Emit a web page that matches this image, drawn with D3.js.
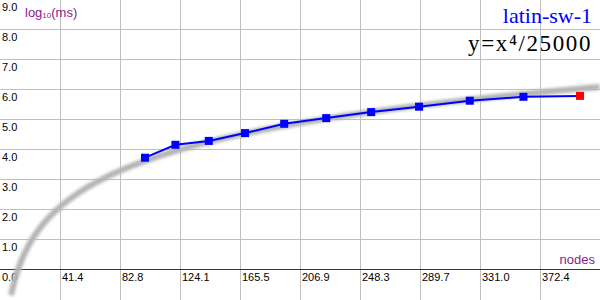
<!DOCTYPE html>
<html>
<head>
<meta charset="utf-8">
<script src="https://cdn.jsdelivr.net/npm/d3@7"></script>
<style>
  body { margin: 0; background: #fff; }
  svg { display: block; }
  .tick-label { font: 11px "Liberation Sans", Arial, sans-serif; fill: #000; }
</style>
</head>
<body>
<svg id="chart" width="600" height="300"></svg>
<script>
// Latin square sizes n = 10..20, nodes = n^2
const nodes = [100, 121, 144, 169, 196, 225, 256, 289, 324, 361, 400];
const logMs = [3.71, 4.14, 4.27, 4.53, 4.84, 5.03, 5.23, 5.41, 5.61, 5.74, 5.77];
const xTicks = [0, 41.4, 82.8, 124.1, 165.5, 206.9, 248.3, 289.7, 331.0, 372.4];
const yTicks = [1, 2, 3, 4, 5, 6, 7, 8, 9];
const title = "latin-sw-1";
const formula = "y=x\u2074/25000";

const W = 600, H = 300;
const svg = d3.select("#chart");

const x = d3.scaleLinear().domain([0, 413.8]).range([0, W]);
const y = d3.scaleLinear().domain([0, 9]).range([269, -1]);

// grid
const grid = svg.append("g").attr("stroke", "#c0c0c0").attr("stroke-width", 1);
grid.selectAll("line.v").data(xTicks.slice(1)).join("line")
  .attr("x1", d => Math.round(x(d)) + 0.5).attr("x2", d => Math.round(x(d)) + 0.5)
  .attr("y1", 0).attr("y2", H);
grid.selectAll("line.h").data(yTicks).join("line")
  .attr("x1", 0).attr("x2", W)
  .attr("y1", d => Math.round(y(d)) + 0.5).attr("y2", d => Math.round(y(d)) + 0.5);

// x axis line
svg.append("line")
  .attr("x1", 0).attr("x2", W)
  .attr("y1", y(0) + 0.5).attr("y2", y(0) + 0.5)
  .attr("stroke", "#800080").attr("stroke-width", 1);

// tick labels
svg.append("g").selectAll("text").data(xTicks).join("text")
  .attr("class", "tick-label")
  .attr("x", d => Math.round(x(d)) + 2)
  .attr("y", y(0) + 12)
  .text(d => d.toFixed(1));
svg.append("g").selectAll("text").data(yTicks).join("text")
  .attr("class", "tick-label")
  .attr("x", 2)
  .attr("y", d => y(d) + 12)
  .text(d => d.toFixed(1));

// axis titles
svg.append("text")
  .attr("x", 25).attr("y", 17)
  .attr("fill", "#8b1a8b")
  .style("font", "13px 'Liberation Sans', Arial, sans-serif")
  .html('log<tspan font-size="8" dy="1">10</tspan><tspan dy="-1">(ms)</tspan>');
svg.append("text")
  .attr("x", 595).attr("y", 264)
  .attr("text-anchor", "end")
  .attr("fill", "#8b1a8b")
  .style("font", "13px 'Liberation Sans', Arial, sans-serif")
  .text("nodes");

// reference curve y = x^4 / 25000, blurred
const defs = svg.append("defs");
defs.append("filter").attr("id", "blur")
  .attr("x", "-10%").attr("y", "-10%").attr("width", "120%").attr("height", "120%")
  .append("feGaussianBlur").attr("stdDeviation", 1.8);
const refX = d3.range(7.6, 414, 1);
svg.append("path")
  .datum(refX)
  .attr("fill", "none")
  .attr("stroke", "#b4b4b4")
  .attr("stroke-width", 6)
  .attr("filter", "url(#blur)")
  .attr("d", d3.line().x(d => x(d)).y(d => y(Math.log10(Math.pow(d, 4) / 25000))));

// data line + markers
const pts = nodes.map((n, i) => [n, logMs[i]]);
svg.append("path")
  .datum(pts)
  .attr("fill", "none")
  .attr("stroke", "#0000ff")
  .attr("stroke-width", 2)
  .attr("d", d3.line().x(d => x(d[0])).y(d => y(d[1])));
svg.append("g").selectAll("rect").data(pts).join("rect")
  .attr("x", d => x(d[0]) - 4).attr("y", d => y(d[1]) - 4)
  .attr("width", 8).attr("height", 8)
  .attr("fill", (d, i) => i === pts.length - 1 ? "#ff0000" : "#0000ff");

// titles
svg.append("text")
  .attr("x", 592).attr("y", 23)
  .attr("text-anchor", "end")
  .attr("fill", "#0000ff")
  .style("font", "22px 'Liberation Serif', 'Times New Roman', serif")
  .text(title);
svg.append("text")
  .attr("x", 592).attr("y", 51)
  .attr("text-anchor", "end")
  .attr("fill", "#000")
  .attr("letter-spacing", 1.6)
  .style("font", "23px 'Liberation Serif', 'Times New Roman', serif")
  .text(formula);
</script>
</body>
</html>
